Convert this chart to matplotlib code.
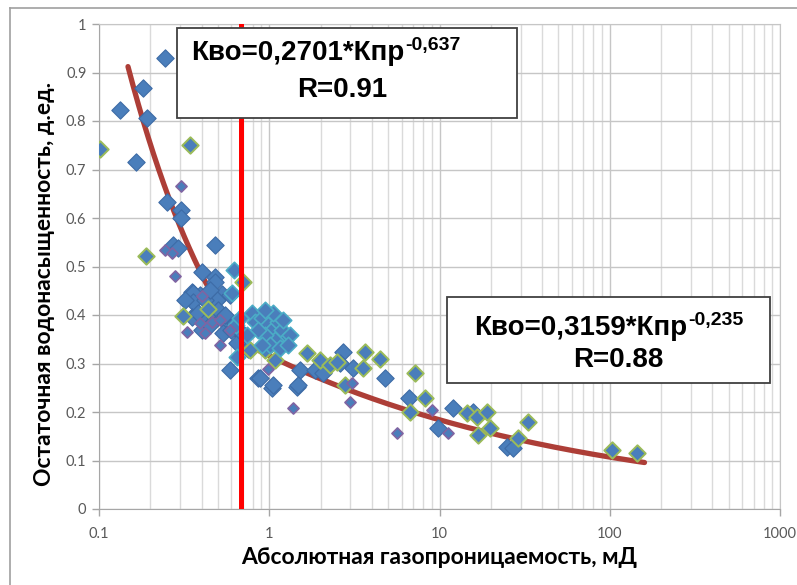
import numpy as np
import matplotlib
matplotlib.use('Agg')
import matplotlib.pyplot as plt
from matplotlib.ticker import FixedLocator, FixedFormatter, LogLocator, NullFormatter
from matplotlib.lines import Line2D
from matplotlib.patches import Rectangle

# ---------------- data ----------------
blue_x = [0.244, 0.133, 0.181, 0.191, 0.165, 0.251, 0.303, 0.303, 0.272, 0.291, 0.480, 0.402,
          0.480, 0.352, 0.392, 0.527, 0.588, 0.480, 0.356, 0.356, 0.493, 0.352, 0.381, 0.431,
          0.480, 0.527, 0.572, 0.535, 0.629, 0.646, 0.588, 0.858, 1.04, 1.455, 0.882, 1.05,
          1.514, 1.854, 2.067, 2.71, 3.10, 2.60, 4.78, 6.61, 12.0, 9.79, 24.9, 27.0, 15.7,
          0.419, 0.449, 0.320, 1.474, 0.40, 0.45, 0.50, 0.55, 0.60, 0.70, 0.75]
blue_y = [0.930, 0.823, 0.868, 0.806, 0.715, 0.633, 0.617, 0.600, 0.544, 0.538, 0.544, 0.489,
          0.478, 0.447, 0.441, 0.443, 0.441, 0.468, 0.445, 0.427, 0.431, 0.396, 0.404, 0.390,
          0.396, 0.394, 0.384, 0.363, 0.384, 0.342, 0.287, 0.270, 0.249, 0.252, 0.270, 0.256,
          0.287, 0.287, 0.280, 0.324, 0.291, 0.301, 0.270, 0.229, 0.208, 0.167, 0.128, 0.126, 0.200,
          0.431, 0.452, 0.431, 0.256, 0.370, 0.380, 0.410, 0.400, 0.370, 0.360, 0.330]

green_x = [0.1014, 0.342, 0.189, 0.701, 0.311, 0.437, 0.944, 1.08, 1.665, 1.985, 2.272, 2.498,
           3.65, 3.55, 4.47, 2.78, 7.17, 8.20, 6.70, 14.5, 16.6, 19.0, 16.8, 19.8, 33.0, 28.9,
           103, 144, 0.770]
green_y = [0.742, 0.751, 0.522, 0.468, 0.398, 0.412, 0.328, 0.307, 0.322, 0.307, 0.297, 0.303,
           0.324, 0.290, 0.310, 0.256, 0.280, 0.229, 0.200, 0.198, 0.190, 0.200, 0.153, 0.167,
           0.179, 0.146, 0.122, 0.115, 0.328]

teal_x = [0.621, 0.604, 0.646, 0.791, 0.824, 0.906, 0.982, 1.04, 1.125, 1.188, 1.236, 1.08,
          0.944, 0.858, 1.323, 1.01, 1.156, 0.740, 0.906, 1.288, 0.638, 0.673, 1.05, 1.20, 0.95]
teal_y = [0.493, 0.445, 0.313, 0.404, 0.386, 0.394, 0.379, 0.369, 0.386, 0.369, 0.348, 0.348,
          0.359, 0.369, 0.359, 0.338, 0.332, 0.359, 0.338, 0.338, 0.379, 0.394, 0.404, 0.390, 0.410]

purple_x = [0.303, 0.244, 0.268, 0.279, 0.402, 0.392, 0.329, 0.419, 0.461, 0.513, 0.513, 0.588,
            0.982, 1.378, 3.06, 2.98, 9.03, 11.2, 5.62]
purple_y = [0.666, 0.534, 0.528, 0.480, 0.439, 0.384, 0.365, 0.363, 0.386, 0.390, 0.338, 0.369,
            0.289, 0.208, 0.260, 0.221, 0.204, 0.157, 0.157]

# trend equations shown on the chart
fit1_coef, fit1_exp = 0.2701, -0.637
fit2_coef, fit2_exp = 0.3159, -0.235
fit_start, cutoff_x, fit_end = 0.148, 0.683, 160.0

x_ticks = [0.1, 1, 10, 100, 1000]
x_tick_labels = ['0.1', '1', '10', '100', '1000']
y_ticks = [0, 0.1, 0.2, 0.3, 0.4, 0.5, 0.6, 0.7, 0.8, 0.9, 1.0]
y_tick_labels = ['0', '0.1', '0.2', '0.3', '0.4', '0.5', '0.6', '0.7', '0.8', '0.9', '1']

eq1_main, eq1_sup, eq1_r = 'Кво=0,2701*Кпр', '-0,637', 'R=0.91'
eq2_main, eq2_sup, eq2_r = 'Кво=0,3159*Кпр', '-0,235', 'R=0.88'
xlabel = 'Абсолютная газопроницаемость, мД'
ylabel = 'Остаточная водонасыщенность, д.ед.'

# ---------------- figure ----------------
W, H = 797, 585
fig = plt.figure(figsize=(W / 100, H / 100), dpi=100)
fig.patch.set_facecolor('white')
ax = fig.add_axes([99 / W, 1 - 509 / H, 681 / W, 485 / H])
ax.set_xscale('log')
ax.set_xlim(0.1, 1000)
ax.set_ylim(0, 1)

# grid
ax.xaxis.set_major_locator(FixedLocator(x_ticks))
ax.xaxis.set_major_formatter(FixedFormatter(x_tick_labels))
ax.xaxis.set_minor_locator(LogLocator(base=10, subs=np.arange(2, 10)))
ax.xaxis.set_minor_formatter(NullFormatter())
ax.yaxis.set_major_locator(FixedLocator(y_ticks))
ax.yaxis.set_major_formatter(FixedFormatter(y_tick_labels))
ax.grid(which='major', axis='both', color='#C6C6C6', lw=1.0, zorder=0)
ax.grid(which='minor', axis='x', color='#DADADA', lw=1.0, zorder=0)
ax.set_axisbelow(True)

for s in ['top', 'right']:
    ax.spines[s].set_color('#C6C6C6')
for s in ['left', 'bottom']:
    ax.spines[s].set_color('#A6A6A6')

ax.tick_params(axis='both', which='major', direction='out', length=5, width=1,
               color='#A6A6A6', labelcolor='#595959', pad=4)
ax.tick_params(axis='x', which='minor', length=0)
for lab in ax.get_xticklabels() + ax.get_yticklabels():
    lab.set_fontfamily(['Lato', 'DejaVu Sans'])
    lab.set_fontsize(10.5)
ax.tick_params(axis='x', pad=8)

# trend curves
xs1 = np.geomspace(fit_start, cutoff_x, 200)
xs2 = np.geomspace(cutoff_x, fit_end, 300)
ax.plot(xs1, fit1_coef * xs1 ** fit1_exp, color='#AD3E37', lw=3.8, solid_capstyle='round', zorder=2)
ax.plot(xs2, fit2_coef * xs2 ** fit2_exp, color='#AD3E37', lw=3.8, solid_capstyle='round', zorder=2)

# scatter series
fill = '#4A7EBB'
ax.scatter(blue_x, blue_y, marker='D', s=78, facecolor=fill, edgecolor='#3D6BA6', lw=0.8, zorder=3)
ax.scatter(green_x, green_y, marker='D', s=70, facecolor=fill, edgecolor='#9BBB59', lw=1.4, zorder=4)
ax.scatter(purple_x, purple_y, marker='D', s=32, facecolor=fill, edgecolor='#8064A2', lw=1.2, zorder=5)
ax.scatter(teal_x, teal_y, marker='D', s=70, facecolor=fill, edgecolor='#4BACC6', lw=1.2, zorder=4)

# vertical cutoff line
ax.axvline(cutoff_x, color='#FF0000', lw=3.6, zorder=6)

# text boxes
box_font = dict(family=['Liberation Sans', 'DejaVu Sans'], weight='bold', color='black')

def px(x, y):
    return (x / W, 1 - y / H)

def add_box(x0, y0, x1, y1):
    r = Rectangle(px(x0, y1), (x1 - x0) / W, (y1 - y0) / H, transform=fig.transFigure,
                  facecolor='white', edgecolor='#404040', lw=1.3, zorder=10)
    fig.add_artist(r)

def add_eq(xm, ym, main, sup, xr, yr, rtext):
    t = fig.text(*px(xm, ym), main, ha='left', va='center', fontsize=20, zorder=11, **box_font)
    a = fig.text(0, 0, sup, ha='left', va='top', fontsize=14, zorder=11, **box_font)
    fig.text(*px(xr, yr), rtext, ha='center', va='center', fontsize=20, zorder=11, **box_font)
    return t, a

add_box(177, 28, 517, 118)
t1, s1 = add_eq(191, 53, eq1_main, eq1_sup, 342, 90, eq1_r)
add_box(447, 297, 770, 383)
t2, s2 = add_eq(474, 328, eq2_main, eq2_sup, 618, 360, eq2_r)

# attach superscripts right after the main text
fig.canvas.draw()
r = fig.canvas.get_renderer()
for t, s in [(t1, s1), (t2, s2)]:
    bb = t.get_window_extent(r)
    s.set_transform(fig.transFigure)
    s.set_position(((bb.x1 + 1) / W, (bb.y1 + 3) / H))

# axis labels
lab_font = dict(family=['Lato', 'DejaVu Sans'], weight='bold', size=16.5, color='black')
fig.text(*px(439, 557), xlabel, ha='center', va='center', **lab_font)
fig.text(*px(45, 284), ylabel, ha='center', va='center', rotation=90, **lab_font)

# outer chart border
fig.add_artist(Line2D([10 / W, 1.0], [1 - 8 / H, 1 - 8 / H], transform=fig.transFigure,
                      color='#A0A0A0', lw=1.2))
fig.add_artist(Line2D([10 / W, 10 / W], [0, 1 - 8 / H], transform=fig.transFigure,
                      color='#A0A0A0', lw=1.2))

fig.savefig('out.png', dpi=100)
